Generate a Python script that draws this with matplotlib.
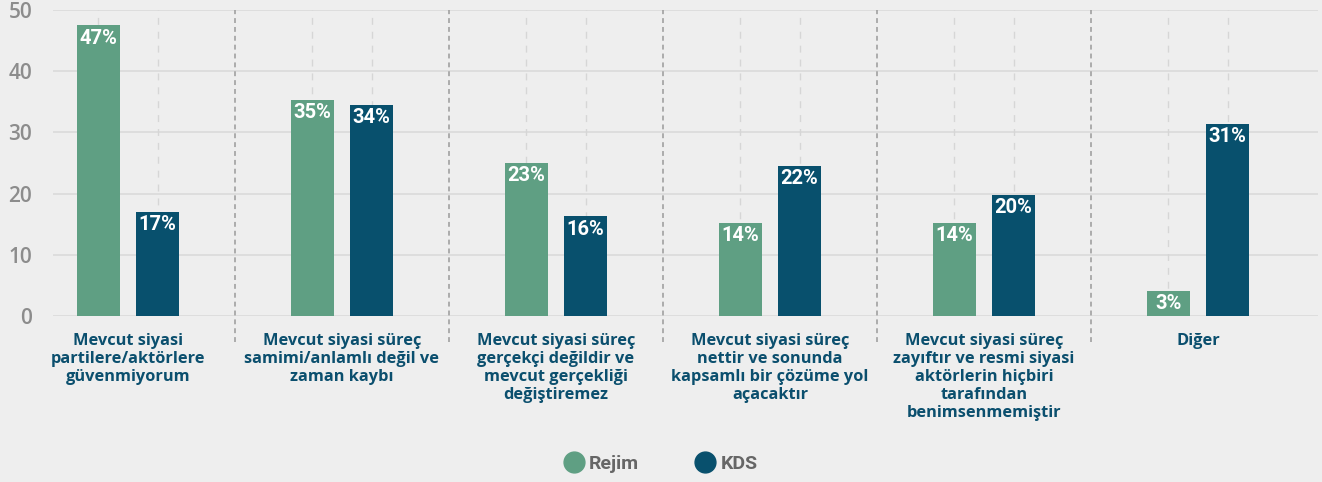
import matplotlib
matplotlib.use("Agg")
import matplotlib.pyplot as plt
import matplotlib.transforms as mtransforms
from matplotlib.lines import Line2D
import numpy as np

categories = [
    "Mevcut siyasi\npartilere/aktörlere\ngüvenmiyorum",
    "Mevcut siyasi süreç\nsamimi/anlamlı değil ve\nzaman kaybı",
    "Mevcut siyasi süreç\ngerçekçi değildir ve\nmevcut gerçekliği\ndeğiştiremez",
    "Mevcut siyasi süreç\nnettir ve sonunda\nkapsamlı bir çözüme yol\naçacaktır",
    "Mevcut siyasi süreç\nzayıftır ve resmi siyasi\naktörlerin hiçbiri\ntarafından\nbenimsenmemiştir",
    "Diğer",
]
series_names = ["Rejim", "KDS"]
rejim_values = [47.5, 35.3, 25.0, 15.2, 15.2, 4.1]
kds_values = [17.0, 34.5, 16.3, 24.5, 19.8, 31.4]
rejim_labels = ["47%", "35%", "23%", "14%", "14%", "3%"]
kds_labels = ["17%", "34%", "16%", "22%", "20%", "31%"]
yticks = [0, 10, 20, 30, 40, 50]

GREEN = "#5f9f83"
BLUE = "#08506d"
BG = "#eeeeee"
LABEL_BLUE = "#0b4f6e"

W, H = 1322, 482
fig = plt.figure(figsize=(W / 100, H / 100), dpi=100, facecolor=BG)
left, right, top, bottom = 53, 1318, 10, 316
ax = fig.add_axes([left / W, 1 - bottom / H, (right - left) / W, (bottom - top) / H])
ax.set_facecolor(BG)

x = np.arange(len(categories))
offset = 0.138
bw = 0.2
ax.set_xlim((left - 128) / 214, (right - 128) / 214)
ax.set_ylim(0, 50)

# grid
for yv in yticks:
    ax.axhline(yv, color="#dcdcdc", lw=1.3, zorder=0)
trans = mtransforms.blended_transform_factory(ax.transData, ax.transAxes)
for xi in x:
    for d in (-offset, offset):
        ax.plot([xi + d, xi + d], [0, 1], transform=trans, color="#d6d6d6",
                lw=1.0, ls=(0, (5, 5)), zorder=0.5)
for xi in x[:-1]:
    ax.plot([xi + 0.5, xi + 0.5], [-0.085, 1], transform=trans, color="#9a9a9a",
            lw=1.1, ls=(0, (3.2, 2.6)), zorder=1, clip_on=False)

b1 = ax.bar(x - offset, rejim_values, bw, color=GREEN, zorder=2)
b2 = ax.bar(x + offset, kds_values, bw, color=BLUE, zorder=2)

lab_font = ["Roboto", "DejaVu Sans"]
for bars, labs in ((b1, rejim_labels), (b2, kds_labels)):
    for r, t in zip(bars, labs):
        ax.annotate(t, (r.get_x() + r.get_width() / 2, r.get_height()),
                    xytext=(0, -9.2), textcoords="offset points",
                    ha="center", va="center", color="white",
                    fontsize=14.5, fontweight="bold", family=lab_font, zorder=3)

for s in ax.spines.values():
    s.set_visible(False)
ax.set_xticks([])
ax.set_yticks(yticks)
ax.set_yticklabels([str(v) for v in yticks])
ax.tick_params(axis="y", length=0, pad=15, labelsize=15, labelcolor="#8c8c8c")
for t in ax.get_yticklabels():
    t.set_family(["Open Sans", "DejaVu Sans"])
    t.set_fontweight("semibold")

for xi, c in zip(x, categories):
    ax.text(xi, -(333 - bottom) / 306 * 50, c, ha="center", va="top",
            fontsize=11.8, fontweight="bold", color=LABEL_BLUE,
            family=["Open Sans", "DejaVu Sans"], linespacing=1.17)

handles = [Line2D([], [], marker="o", ls="", color=GREEN, markersize=15),
           Line2D([], [], marker="o", ls="", color=BLUE, markersize=15)]
leg = fig.legend(handles, series_names, loc="center", bbox_to_anchor=(0.5, 1 - 464 / H),
                 ncol=2, frameon=False, handlelength=1.0, handletextpad=0.3,
                 columnspacing=2.9,
                 prop={"family": lab_font, "weight": "bold", "size": 14})
for t in leg.get_texts():
    t.set_color("#666666")

fig.savefig("out.png", dpi=100, facecolor=BG)
